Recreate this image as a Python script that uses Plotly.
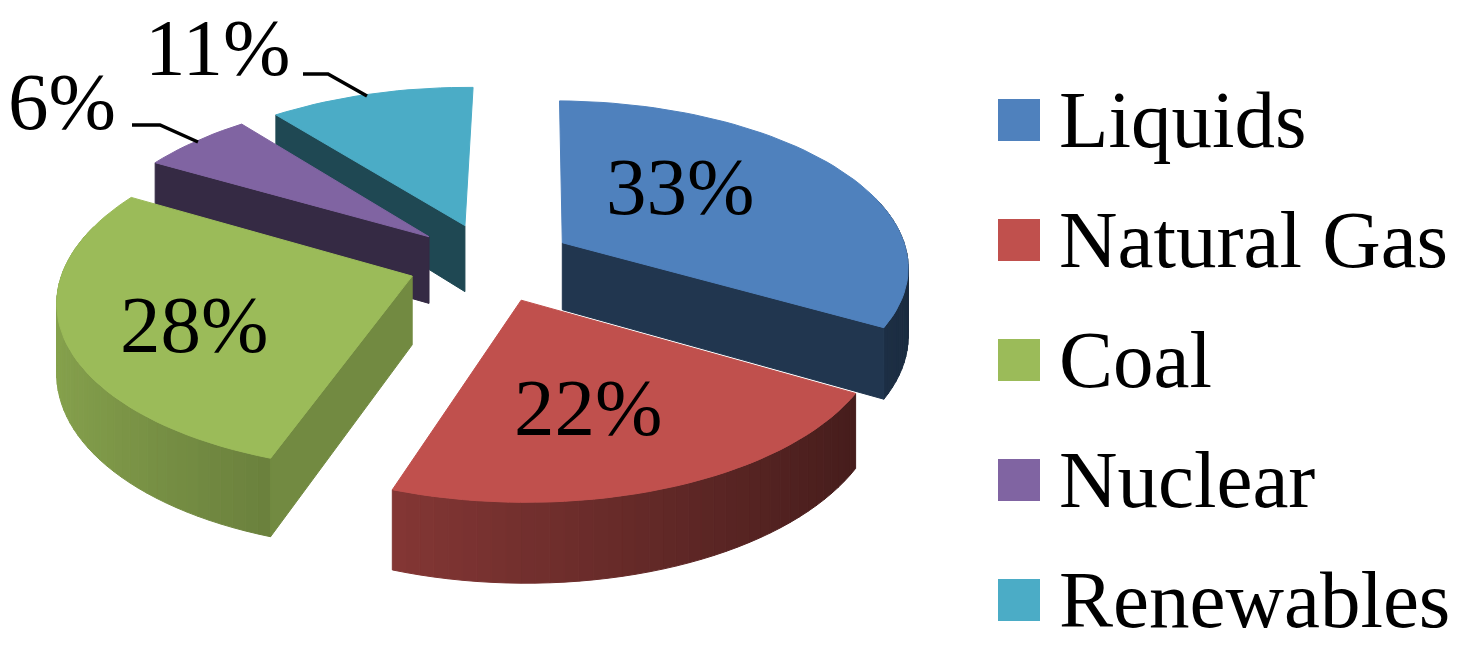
import math
import plotly.graph_objects as go

categories = ["Liquids", "Natural Gas", "Coal", "Nuclear", "Renewables"]
shares = [33, 22, 28, 6, 11]
labels = ["33%", "22%", "28%", "6%", "11%"]

# Styling / view settings
colors = ["#4F81BD", "#C0504D", "#9BBB59", "#8064A2", "#4BACC6"]
wall_factor = [0.42, 0.42, 0.74, 0.42, 0.42]
draw_order = [4, 3, 0, 2, 1]
label_xy = [(680, 187), (588, 408), (194, 325), (62, 102), (217, 48)]
CX, CY, RX, RY, K, H, EXPLODE, ROTATION = 491, 262, 347, 165, 0.13, 68, 0.24, math.radians(1.0)
FONT = "Liberation Serif"
FS = 81


def project(gx, gy, drop=0.0):
    s = 1 / (1 + K * gy)
    return CX + RX * gx * s, CY - RY * gy * s + H * s * drop


def shade(c, f):
    r, g, b = int(c[1:3], 16), int(c[3:5], 16), int(c[5:7], 16)
    return "rgb(%d,%d,%d)" % (r * f, g * f, b * f)


def poly(fig, pts, color):
    xs = [p[0] for p in pts] + [pts[0][0]]
    ys = [p[1] for p in pts] + [pts[0][1]]
    fig.add_trace(go.Scatter(x=xs, y=ys, mode="lines", fill="toself", fillcolor=color,
                             line=dict(color=color, width=1), hoverinfo="skip", showlegend=False))


fig = go.Figure()

total = sum(shares)
spans = []
a = ROTATION
for v in shares:
    b = a + 2 * math.pi * v / total
    spans.append((a, b))
    a = b

for i in draw_order:
    a, b = spans[i]
    mid = (a + b) / 2
    ox, oy = EXPLODE * math.sin(mid), EXPLODE * math.cos(mid)
    steps = max(6, int(60 * (b - a) / (2 * math.pi) * 3))
    angs = [a + (b - a) * j / steps for j in range(steps + 1)]
    rim = [(ox + math.sin(t), oy + math.cos(t)) for t in angs]
    wall = shade(colors[i], wall_factor[i])
    # outer wall with left-to-right shading (only the part turned towards the viewer)
    for j in range(steps):
        t = (angs[j] + angs[j + 1]) / 2
        if math.cos(t) > 0.3:
            continue
        f = 0.6 - 0.27 * math.sin(t)
        poly(fig, [project(*rim[j]), project(*rim[j + 1]), project(*rim[j + 1], 1), project(*rim[j], 1)],
             shade(colors[i], f))
    # radial walls that face the viewer
    if math.sin(a) < -1e-6:
        e = rim[0]
        poly(fig, [project(ox, oy), project(*e), project(*e, 1), project(ox, oy, 1)], wall)
    if 0 < b < math.pi:
        e = rim[-1]
        poly(fig, [project(ox, oy), project(*e), project(*e, 1), project(ox, oy, 1)], wall)
    # top face
    poly(fig, [project(ox, oy)] + [project(*p) for p in rim], colors[i])

# leader lines
for xs, ys in (([132, 160, 198], [125, 125, 142]), ([303, 328, 367], [74, 74, 96])):
    fig.add_trace(go.Scatter(x=xs, y=ys, mode="lines", line=dict(color="black", width=3.5),
                             hoverinfo="skip", showlegend=False))

annotations = []
for lab, (x, y) in zip(labels, label_xy):
    annotations.append(dict(x=x, y=y, text=lab, showarrow=False, xref="x", yref="y",
                            font=dict(family=FONT, size=FS, color="black")))

# legend drawn in place so its size matches
lx, ly = [1019] * 5, [120 + 120 * n for n in range(5)]
fig.add_trace(go.Scatter(x=lx, y=ly, mode="markers",
                         marker=dict(symbol="square", size=42, color=colors, line=dict(width=0)),
                         hoverinfo="skip", showlegend=False))
for cat, y in zip(categories, ly):
    annotations.append(dict(x=1057, y=y, text=cat, showarrow=False, xref="x", yref="y", xanchor="left",
                            font=dict(family=FONT, size=FS, color="black")))

fig.update_layout(width=1474, height=645, margin=dict(l=0, r=0, t=0, b=0),
                  paper_bgcolor="white", plot_bgcolor="white", annotations=annotations,
                  xaxis=dict(range=[0, 1474], visible=False, fixedrange=True),
                  yaxis=dict(range=[645, 0], visible=False, fixedrange=True))
fig.write_html("out.html", config=dict(displayModeBar=False),
               post_script="document.body.style.margin='0';")
